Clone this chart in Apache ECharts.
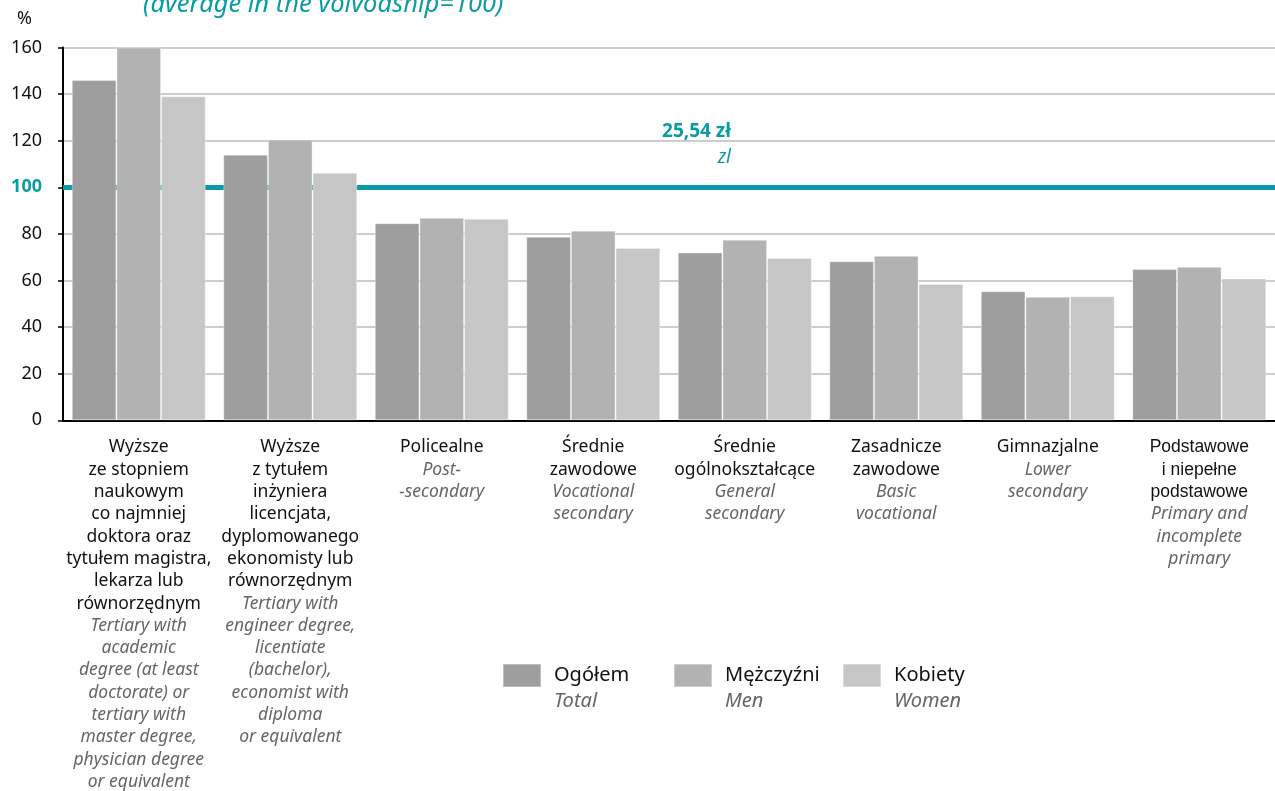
<!DOCTYPE html>
<html>
<head>
<meta charset="utf-8">
<script src="https://cdn.jsdelivr.net/npm/echarts@6/dist/echarts.min.js"></script>
<style>
html,body{margin:0;padding:0;background:#fff;}
#chart{width:1275px;height:791px;}
</style>
</head>
<body>
<div id="chart"></div>
<script>
var categoriesPL = [
  "Wyższe\nze stopniem\nnaukowym\nco najmniej\ndoktora oraz\ntytułem magistra,\nlekarza lub\nrównorzędnym",
  "Wyższe\nz tytułem\ninżyniera\nlicencjata,\ndyplomowanego\nekonomisty lub\nrównorzędnym",
  "Policealne",
  "Średnie\nzawodowe",
  "Średnie\nogólnokształcące",
  "Zasadnicze\nzawodowe",
  "Gimnazjalne",
  "Podstawowe\ni niepełne\npodstawowe"
];
var categoriesEN = [
  "Tertiary with\nacademic\ndegree (at least\ndoctorate) or\ntertiary with\nmaster degree,\nphysician degree\nor equivalent",
  "Tertiary with\nengineer degree,\nlicentiate\n(bachelor),\neconomist with\ndiploma\nor equivalent",
  "Post-\n-secondary",
  "Vocational\nsecondary",
  "General\nsecondary",
  "Basic\nvocational",
  "Lower\nsecondary",
  "Primary and\nincomplete\nprimary"
];
var seriesNamesPL = ["Ogółem", "Mężczyźni", "Kobiety"];
var seriesNamesEN = ["Total", "Men", "Women"];
var totalValues = [146, 114, 84.6, 78.8, 72, 68.3, 55.4, 64.9];
var menValues = [160, 120.5, 86.9, 81.4, 77.5, 70.6, 53, 65.9];
var womenValues = [139.1, 106.2, 86.5, 74, 69.7, 58.5, 53.3, 60.9];
var averageValue = 100;
var yTicks = [0, 20, 40, 60, 80, 100, 120, 140, 160];

var TEAL = '#0a9ba5';
var FONT = 'Noto Sans';
var colors = ['#9d9e9d', '#b1b2b1', '#c5c6c5'];

var cats = categoriesPL.map(function (p, i) { return i; });

var chart = echarts.init(document.getElementById('chart'), null, {renderer: 'canvas'});

function legendFor(i, left) {
  return {
    data: [seriesNamesPL[i]],
    left: left,
    top: 663,
    padding: 0,
    itemWidth: 38,
    itemHeight: 23,
    icon: 'rect',
    formatter: function (name) {
      return '{pl|' + name + '}\n{en|' + seriesNamesEN[seriesNamesPL.indexOf(name)] + '}';
    },
    textStyle: {
      padding: [26, 0, 0, 8],
      rich: {
        pl: {fontFamily: FONT, fontSize: 20, color: '#111', lineHeight: 26},
        en: {fontFamily: FONT, fontSize: 20, color: '#666', fontStyle: 'italic', lineHeight: 26}
      }
    }
  };
}

var option = {
  animation: false,
  backgroundColor: '#fff',
  textStyle: {fontFamily: FONT},
  grid: {left: 63, right: -10, top: 47.5, bottom: 367.5, containLabel: false},
  legend: [legendFor(0, 502), legendFor(1, 673), legendFor(2, 842)],
  xAxis: {
    type: 'category',
    data: cats,
    axisLine: {lineStyle: {color: '#000', width: 2}},
    axisTick: {show: false},
    axisLabel: {
      interval: 0,
      margin: 16,
      formatter: function (v) {
        var i = +v;
        var plStyle = (i === 7) ? 'plA' : 'pl';
        return '{' + plStyle + '|' + categoriesPL[i] + '}\n{en|' + categoriesEN[i] + '}';
      },
      rich: {
        pl: {fontFamily: FONT, fontSize: 17.5, color: '#111', lineHeight: 22.3, align: 'center'},
        plA: {fontFamily: 'Liberation Sans', fontSize: 17.5, color: '#111', lineHeight: 22.3, align: 'center'},
        en: {fontFamily: FONT, fontSize: 17.5, color: '#666', fontStyle: 'italic', lineHeight: 22.3, align: 'center'}
      }
    }
  },
  yAxis: {
    type: 'value',
    min: 0,
    max: 160,
    interval: 20,
    axisLine: {show: true, lineStyle: {color: '#000', width: 2}},
    axisTick: {show: true, length: 5, lineStyle: {color: '#000', width: 1.5}},
    splitLine: {lineStyle: {color: '#bdbdbd', width: 1.5}},
    axisLabel: {
      margin: 21,
      formatter: function (v) {
        return v === averageValue ? '{t|' + v + '}' : '{n|' + v + '}';
      },
      rich: {
        n: {fontFamily: FONT, fontSize: 18, color: '#111'},
        t: {fontFamily: FONT, fontSize: 18, color: TEAL, fontWeight: 'bold'}
      }
    }
  },
  series: [
    {
      type: 'line', data: [], z: 1, silent: true,
      markLine: {
        silent: true, symbol: 'none', z: 1,
        label: {show: false},
        lineStyle: {color: TEAL, width: 5, type: 'solid'},
        data: [{yAxis: averageValue}]
      }
    },
    {name: seriesNamesPL[0], type: 'bar', data: totalValues, barGap: '0%', barCategoryGap: '11.6%', z: 3,
     itemStyle: {color: colors[0], borderColor: 'rgba(255,255,255,0.35)', borderWidth: 1}},
    {name: seriesNamesPL[1], type: 'bar', data: menValues, barGap: '0%', barCategoryGap: '11.6%', z: 3,
     itemStyle: {color: colors[1], borderColor: 'rgba(255,255,255,0.35)', borderWidth: 1}},
    {name: seriesNamesPL[2], type: 'bar', data: womenValues, barGap: '0%', barCategoryGap: '11.6%', z: 3,
     itemStyle: {color: colors[2], borderColor: 'rgba(255,255,255,0.35)', borderWidth: 1}}
  ],
  graphic: [
    {type: 'text', x: 17, y: 19, style: {text: '%', fontFamily: FONT, fontSize: 18, fill: '#111', verticalAlign: 'middle'}},
    {type: 'text', x: 143, y: 5, style: {text: '(average in the voivodship=100)', fontFamily: FONT, fontSize: 25.5, fontStyle: 'italic', fill: TEAL, verticalAlign: 'middle'}},
    {type: 'text', x: 731, y: 132, style: {text: '25,54 zł', fontFamily: FONT, fontSize: 19, fontWeight: 'bold', fill: TEAL, align: 'right', verticalAlign: 'middle'}},
    {type: 'text', x: 731, y: 158, style: {text: 'zl', fontFamily: FONT, fontSize: 19, fontStyle: 'italic', fill: TEAL, align: 'right', verticalAlign: 'middle'}}
  ]
};
chart.setOption(option);
</script>
</body>
</html>
